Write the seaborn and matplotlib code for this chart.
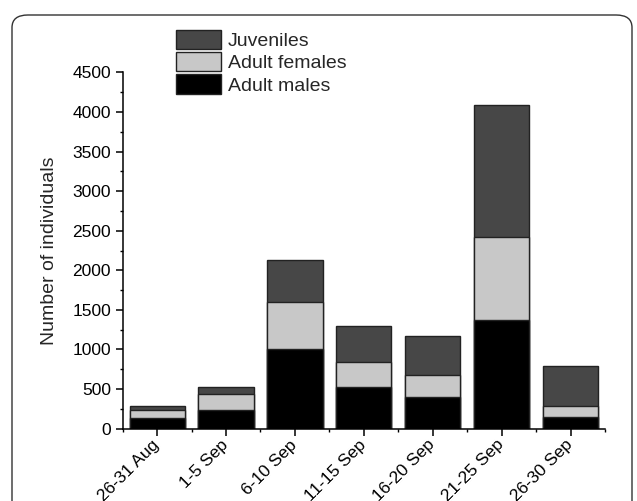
import matplotlib
matplotlib.use("Agg")
import matplotlib.pyplot as plt
from matplotlib.patches import Patch, FancyBboxPatch
from matplotlib.ticker import MultipleLocator, FixedLocator
import seaborn as sns
import pandas as pd
import numpy as np

# Counts per sampling period
periods = ["26-31 Aug", "1-5 Sep", "6-10 Sep", "11-15 Sep", "16-20 Sep", "21-25 Sep", "26-30 Sep"]
adult_males = [135, 240, 1000, 530, 400, 1370, 150]
adult_females = [105, 200, 600, 315, 270, 1050, 140]
juveniles = [50, 85, 530, 455, 495, 1670, 500]

colors = {"Juveniles": "#474747", "Adult females": "#c8c8c8", "Adult males": "#000000"}

sns.set_style("ticks")
plt.rcParams["font.family"] = ["Liberation Sans", "DejaVu Sans"]

df = pd.DataFrame({
    "period": periods,
    "males": adult_males,
    "females": adult_females,
    "juveniles": juveniles,
})
df["m"] = df["males"]
df["mf"] = df["males"] + df["females"]
df["total"] = df["mf"] + df["juveniles"]

fig = plt.figure(figsize=(6.37, 5.01), dpi=100)
ax = fig.add_axes([0.1926, 0.1447, 0.7572, 0.7106])

# Stacked bars drawn as overlapping cumulative heights
for col, name in [("total", "Juveniles"), ("mf", "Adult females"), ("m", "Adult males")]:
    sns.barplot(data=df, x="period", y=col, order=periods, color=colors[name],
                saturation=1, width=0.8, edgecolor="#222222", linewidth=1.0, ax=ax)

ax.set_xlim(-0.5, 6.5)
ax.set_ylim(0, 4500)
ax.yaxis.set_major_locator(MultipleLocator(500))
ax.yaxis.set_minor_locator(MultipleLocator(250))
ax.xaxis.set_minor_locator(FixedLocator(np.arange(-0.5, 7, 1)))
sns.despine(ax=ax)
for s in ["left", "bottom"]:
    ax.spines[s].set_linewidth(1.1)
    ax.spines[s].set_color("black")
ax.tick_params(axis="both", which="major", direction="out", length=5, width=1.1,
               color="black", labelcolor="black")
ax.tick_params(axis="both", which="minor", direction="out", length=2.5, width=1.0, color="black")
ax.tick_params(axis="y", which="major", labelsize=12.5, pad=3.5)
ax.tick_params(axis="x", which="major", labelsize=12.5, pad=5)
ax.set_xlabel("")
ax.set_ylabel("Number of individuals", fontsize=14)
ax.yaxis.set_label_coords(-0.135, 0.5)
plt.setp(ax.get_xticklabels(), rotation=45, ha="right", va="center", rotation_mode="anchor")

handles = [Patch(facecolor=colors[n], edgecolor="#222222", linewidth=1.0, label=n)
           for n in ["Juveniles", "Adult females", "Adult males"]]
ax.legend(handles=handles, loc="upper left", bbox_to_anchor=(176 / 637, 1 - 30 / 501),
          bbox_transform=fig.transFigure, frameon=False, fontsize=14,
          handlelength=2.3, handleheight=1.15, labelspacing=0.1,
          handletextpad=0.35, borderpad=0, borderaxespad=0)

# Rounded frame around the figure
frame = FancyBboxPatch((12 / 637, -0.05), (632 - 12) / 637, 1 - 15 / 501 + 0.05,
                       boxstyle="round,pad=0,rounding_size=0.025",
                       transform=fig.transFigure, fill=False,
                       edgecolor="#333333", linewidth=1.0)
fig.patches.append(frame)

fig.savefig("out.png", dpi=100)
